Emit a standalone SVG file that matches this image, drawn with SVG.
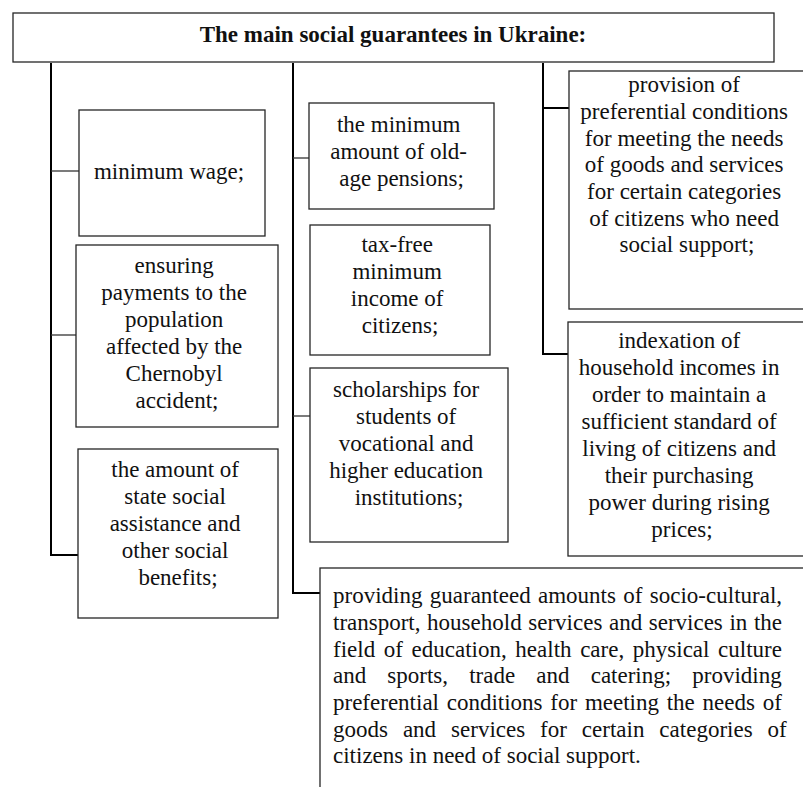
<svg xmlns="http://www.w3.org/2000/svg" width="803" height="787" viewBox="0 0 803 787">
<style>
  .box { fill: #ffffff; stroke: #262626; stroke-width: 1.3; }
  .t { font-family: "Liberation Serif", "Times New Roman", serif; font-size: 23px; fill: #111111; }
  .c { text-anchor: middle; }
  .title { font-weight: bold; }
  .trunk { fill: none; stroke: #000000; stroke-width: 2; }
  .branch { fill: none; stroke: #333333; stroke-width: 1.3; }
</style>
<rect width="803" height="787" fill="#ffffff"/>

<g id="connectors">
  <path class="trunk" d="M51 63 V555 H78"/>
  <path class="branch" d="M51 171 H79"/>
  <path class="branch" d="M51 335 H76"/>
  <path class="trunk" d="M293 63 V593 H320"/>
  <path class="branch" d="M293 158 H309"/>
  <path class="branch" d="M293 416 H310"/>
  <path class="trunk" d="M543 63 V354 H568"/>
  <path class="trunk" d="M543 108 H569"/>
</g>

<g id="title">
  <rect class="box" x="13" y="13" width="761" height="49"/>
  <text class="t c title" x="393" y="42">The main social guarantees in Ukraine:</text>
</g>

<g id="minimum-wage">
  <rect class="box" x="79" y="110" width="186" height="126"/>
  <text class="t c" x="169" y="179">minimum wage;</text>
</g>

<g id="chernobyl">
  <rect class="box" x="76" y="245" width="202" height="182"/>
  <text class="t c" x="177">
    <tspan x="177" y="273">ensuring</tspan>
    <tspan x="177" y="300">payments to the</tspan>
    <tspan x="177" y="327">population</tspan>
    <tspan x="177" y="354">affected by the</tspan>
    <tspan x="177" y="381">Chernobyl</tspan>
    <tspan x="177" y="408">accident;</tspan>
  </text>
</g>

<g id="social-assistance">
  <rect class="box" x="78" y="449" width="200" height="169"/>
  <text class="t c">
    <tspan x="178" y="477">the amount of</tspan>
    <tspan x="178" y="504">state social</tspan>
    <tspan x="178" y="531">assistance and</tspan>
    <tspan x="178" y="558">other social</tspan>
    <tspan x="178" y="585">benefits;</tspan>
  </text>
</g>

<g id="old-age-pensions">
  <rect class="box" x="309" y="103" width="185" height="106"/>
  <text class="t c">
    <tspan x="401.5" y="132">the minimum</tspan>
    <tspan x="401.5" y="159">amount of old-</tspan>
    <tspan x="401.5" y="186">age pensions;</tspan>
  </text>
</g>

<g id="tax-free">
  <rect class="box" x="310" y="225" width="180" height="130"/>
  <text class="t c">
    <tspan x="400" y="252">tax-free</tspan>
    <tspan x="400" y="279">minimum</tspan>
    <tspan x="400" y="306">income of</tspan>
    <tspan x="400" y="333">citizens;</tspan>
  </text>
</g>

<g id="scholarships">
  <rect class="box" x="310" y="368" width="198" height="174"/>
  <text class="t c">
    <tspan x="409" y="397">scholarships for</tspan>
    <tspan x="409" y="424">students of</tspan>
    <tspan x="409" y="451">vocational and</tspan>
    <tspan x="409" y="478">higher education</tspan>
    <tspan x="409" y="505">institutions;</tspan>
  </text>
</g>

<g id="preferential-conditions">
  <rect class="box" x="569" y="71" width="240" height="238"/>
  <text class="t c">
    <tspan x="687" y="92">provision of</tspan>
    <tspan x="687" y="119">preferential conditions</tspan>
    <tspan x="687" y="146">for meeting the needs</tspan>
    <tspan x="687" y="172">of goods and services</tspan>
    <tspan x="687" y="199">for certain categories</tspan>
    <tspan x="687" y="226">of citizens who need</tspan>
    <tspan x="687" y="252">social support;</tspan>
  </text>
</g>

<g id="indexation">
  <rect class="box" x="568" y="322" width="240" height="234"/>
  <text class="t c">
    <tspan x="682" y="348">indexation of</tspan>
    <tspan x="682" y="375">household incomes in</tspan>
    <tspan x="682" y="402">order to maintain a</tspan>
    <tspan x="682" y="429">sufficient standard of</tspan>
    <tspan x="682" y="456">living of citizens and</tspan>
    <tspan x="682" y="483">their purchasing</tspan>
    <tspan x="682" y="510">power during rising</tspan>
    <tspan x="682" y="537">prices;</tspan>
  </text>
</g>

<g id="services">
  <rect class="box" x="320" y="568" width="490" height="230"/>
  <text class="t" x="333" y="603" word-spacing="1.6">providing guaranteed amounts of socio-cultural,</text>
  <text class="t" x="333" y="630" word-spacing="0.85">transport, household services and services in the</text>
  <text class="t" x="333" y="657" word-spacing="2.87">field of education, health care, physical culture</text>
  <text class="t" x="333" y="683" word-spacing="15.4">and sports, trade and catering; providing</text>
  <text class="t" x="333" y="710" word-spacing="2.0">preferential conditions for meeting the needs of</text>
  <text class="t" x="333" y="737" word-spacing="9.2">goods and services for certain categories of</text>
  <text class="t" x="333" y="763">citizens in need of social support.</text>
</g>
</svg>
